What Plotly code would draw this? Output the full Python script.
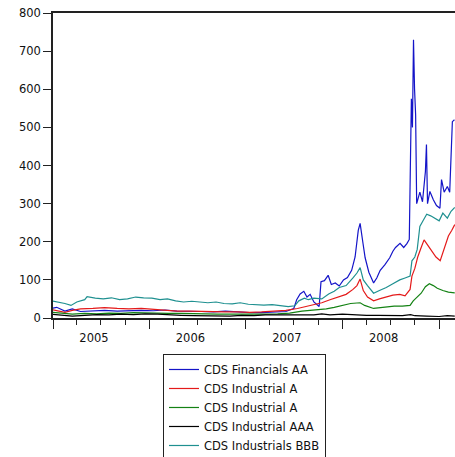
import plotly.graph_objects as go

# ---- data ----
fin_aa_dates = ["2004-12-25","2005-01-15","2005-02-15","2005-03-15","2005-04-15","2005-06-01","2005-07-15",
                "2005-09-01","2005-10-15","2005-12-01","2006-01-15","2006-03-01","2006-04-15","2006-06-01",
                "2006-07-15","2006-09-01","2006-10-15","2006-12-01","2007-01-15","2007-03-01","2007-04-15",
                "2007-06-01","2007-07-01","2007-07-12","2007-07-25","2007-08-08","2007-08-20","2007-09-01",
                "2007-09-15","2007-10-05","2007-10-12","2007-10-25","2007-11-08","2007-11-20","2007-12-05",
                "2007-12-20","2008-01-05","2008-01-20","2008-02-05","2008-02-18","2008-03-01","2008-03-08",
                "2008-03-18","2008-03-27","2008-04-10","2008-04-28","2008-05-10","2008-05-23","2008-06-10",
                "2008-06-28","2008-07-10","2008-07-20","2008-08-06","2008-08-20","2008-09-01","2008-09-10",
                "2008-09-14","2008-09-18","2008-09-22","2008-09-26","2008-09-30","2008-10-04","2008-10-08",
                "2008-10-20","2008-10-30","2008-11-10","2008-11-14","2008-11-18","2008-11-27","2008-12-10",
                "2008-12-22","2009-01-04","2009-01-10","2009-01-20","2009-02-01","2009-02-10","2009-02-20",
                "2009-02-28"]
fin_aa_vals = [25,28,18,24,17,18,20,
               18,19,20,19,21,18,18,
               17,16,18,16,14,14,15,
               17,25,48,63,70,55,62,
               42,30,95,98,112,88,92,
               84,100,106,125,160,230,248,
               200,158,120,92,105,125,140,
               158,175,185,196,185,195,206,
               392,575,500,730,600,533,300,
               330,305,384,455,300,332,310,
               295,288,363,330,345,330,515,
               520]

ind_a_red_dates = ["2004-12-25","2005-01-20","2005-02-15","2005-03-15","2005-04-15","2005-06-01","2005-07-15",
                   "2005-09-01","2005-10-15","2005-12-01","2006-01-15","2006-03-01","2006-04-15","2006-06-01",
                   "2006-07-15","2006-09-01","2006-10-15","2006-12-01","2007-01-15","2007-03-01","2007-04-15",
                   "2007-06-01","2007-07-15","2007-08-15","2007-09-15","2007-10-15","2007-11-15","2007-12-15",
                   "2008-01-15","2008-02-10","2008-02-25","2008-03-08","2008-03-20","2008-04-05","2008-04-28",
                   "2008-05-20","2008-06-15","2008-07-10","2008-08-05","2008-08-25","2008-09-13","2008-09-20",
                   "2008-10-01","2008-10-12","2008-10-25","2008-11-05","2008-11-20","2008-12-05","2008-12-20",
                   "2009-01-05","2009-01-20","2009-02-05","2009-02-18","2009-03-01"]
ind_a_red_vals = [22,18,15,20,24,25,27,
                  25,24,25,22,20,18,18,
                  17,17,16,16,15,16,17,
                  20,25,30,34,40,48,55,
                  62,75,85,102,72,55,45,
                  50,55,60,62,58,75,110,
                  130,160,185,205,190,175,160,
                  150,180,215,230,245]

ind_a_green_dates = ["2004-12-25","2005-02-01","2005-03-15","2005-05-01","2005-06-15","2005-08-01","2005-09-15",
                     "2005-11-01","2005-12-15","2006-02-01","2006-03-15","2006-05-01","2006-06-15","2006-08-01",
                     "2006-09-15","2006-11-01","2006-12-15","2007-02-01","2007-03-15","2007-05-01","2007-06-15",
                     "2007-08-01","2007-09-01","2007-10-01","2007-11-01","2007-12-01","2008-01-01","2008-02-01",
                     "2008-03-08","2008-03-25","2008-04-28","2008-05-20","2008-06-15","2008-07-15","2008-08-15",
                     "2008-09-13","2008-09-25","2008-10-10","2008-10-25","2008-11-10","2008-11-25","2008-12-10",
                     "2008-12-25","2009-01-15","2009-02-05","2009-03-01"]
ind_a_green_vals = [15,12,10,12,11,13,12,
                    14,13,13,12,12,11,11,
                    10,10,10,9,10,11,13,
                    18,20,22,24,28,33,38,
                    40,33,25,27,30,31,31,
                    33,45,55,65,82,90,85,
                    78,72,68,66]

ind_aaa_dates = ["2004-12-25","2005-02-01","2005-03-15","2005-05-01","2005-06-15","2005-08-01","2005-09-15",
                 "2005-11-01","2005-12-15","2006-02-01","2006-03-15","2006-05-01","2006-06-15","2006-08-01",
                 "2006-09-15","2006-11-01","2006-12-15","2007-02-01","2007-03-15","2007-05-01","2007-06-15",
                 "2007-08-01","2007-09-15","2007-10-15","2007-11-15","2008-01-01","2008-02-15","2008-04-01",
                 "2008-05-15","2008-07-01","2008-08-15","2008-09-15","2008-10-01","2008-11-15","2009-01-01",
                 "2009-02-01","2009-03-01"]
ind_aaa_vals = [10,8,5,7,9,8,10,
                9,11,10,8,7,6,5,
                6,5,7,6,8,8,9,
                9,8,11,8,10,8,7,
                7,6,6,9,6,5,4,
                6,5]

ind_bbb_dates = ["2004-12-25","2005-01-20","2005-02-15","2005-03-10","2005-04-01","2005-05-01","2005-05-10",
                 "2005-06-10","2005-07-10","2005-08-10","2005-09-10","2005-10-10","2005-11-10","2005-12-10",
                 "2006-01-10","2006-02-10","2006-03-10","2006-04-10","2006-05-10","2006-06-10","2006-07-10",
                 "2006-08-10","2006-09-10","2006-10-10","2006-11-10","2006-12-10","2007-01-10","2007-02-10",
                 "2007-03-10","2007-04-10","2007-05-10","2007-06-10","2007-07-05","2007-07-20","2007-08-10",
                 "2007-08-25","2007-09-15","2007-10-15","2007-11-10","2007-12-01","2007-12-20","2008-01-15",
                 "2008-02-10","2008-02-25","2008-03-08","2008-03-20","2008-04-05","2008-04-28","2008-05-20",
                 "2008-06-15","2008-07-10","2008-08-05","2008-08-25","2008-09-13","2008-09-20","2008-10-01",
                 "2008-10-10","2008-10-20","2008-11-01","2008-11-15","2008-11-30","2008-12-15","2009-01-01",
                 "2009-01-15","2009-02-01","2009-02-15","2009-03-01"]
ind_bbb_vals = [45,42,38,33,42,48,56,
                52,50,53,48,50,55,53,
                52,48,50,45,42,44,42,
                40,42,38,37,40,36,35,
                34,35,32,30,32,45,52,
                48,52,50,63,70,80,85,
                105,118,132,100,85,65,72,
                80,90,100,105,110,150,160,
                180,240,255,272,268,262,255,
                275,262,280,290]

series_names = ["CDS Financials AA", "CDS Industrial A", "CDS Industrial A",
                "CDS Industrial AAA", "CDS Industrials BBB"]
series_dates = [fin_aa_dates, ind_a_red_dates, ind_a_green_dates, ind_aaa_dates, ind_bbb_dates]
series_vals = [fin_aa_vals, ind_a_red_vals, ind_a_green_vals, ind_aaa_vals, ind_bbb_vals]
series_colors = ["#1414c8", "#e41a1a", "#148214", "#000000", "#1f9090"]

y_ticks = [0, 100, 200, 300, 400, 500, 600, 700, 800]
year_label_dates = ["2005-06-05", "2006-06-05", "2007-06-05", "2008-06-05"]
year_labels = ["2005", "2006", "2007", "2008"]

fig = go.Figure()
for name, d, v, c in zip(series_names, series_dates, series_vals, series_colors):
    fig.add_trace(go.Scatter(x=d, y=v, mode="lines", name=name,
                             line=dict(color=c, width=1.2)))

font_family = "DejaVu Sans"
x_range = ["2005-01-01", "2009-03-02"]
fig.update_layout(
    width=455, height=457,
    margin=dict(l=53, r=0, t=13, b=139, autoexpand=False),
    paper_bgcolor="white", plot_bgcolor="white",
    font=dict(family=font_family, size=12, color="#111111"),
    showlegend=True,
    legend=dict(x=0.2736, y=-0.118, xanchor="left", yanchor="top",
                bordercolor="#222222", borderwidth=1, bgcolor="white",
                font=dict(family=font_family, size=11.5, color="#111111"),
                tracegroupgap=0),
    xaxis=dict(type="date", range=x_range, automargin=False,
               showgrid=False, zeroline=False,
               showline=True, linecolor="#222222", linewidth=1.5, mirror=True,
               ticks="outside", ticklen=9, tickcolor="#222222", tickwidth=1.3,
               tick0="2005-01-01", dtick="M12", showticklabels=False,
               minor=dict(dtick="M3", ticks="outside", ticklen=5, tickcolor="#222222", tickwidth=1.2)),
    xaxis2=dict(type="date", range=x_range, overlaying="x", matches="x", anchor="y", side="bottom",
                automargin=False, showgrid=False, zeroline=False, showline=False,
                tickmode="array", tickvals=year_label_dates, ticktext=year_labels,
                ticks="outside", ticklen=9, tickcolor="rgba(0,0,0,0)",
                tickfont=dict(size=11.5)),
    yaxis=dict(range=[0, 800], tickvals=y_ticks, automargin=False, ticklabeloverflow="allow",
               showgrid=False, zeroline=False,
               showline=True, linecolor="#222222", linewidth=1.5, mirror=False,
               ticks="outside", ticklen=8, tickcolor="#222222", tickwidth=1.3,
               tickfont=dict(size=11.5)),
)
# invisible helper trace so the label axis is drawn
fig.add_trace(go.Scatter(x=[x_range[0]], y=[None], xaxis="x2", yaxis="y",
                         showlegend=False, hoverinfo="skip"))

fig.write_html("out.html", config={"displayModeBar": False},
               post_script="document.body.style.margin='0px';")
